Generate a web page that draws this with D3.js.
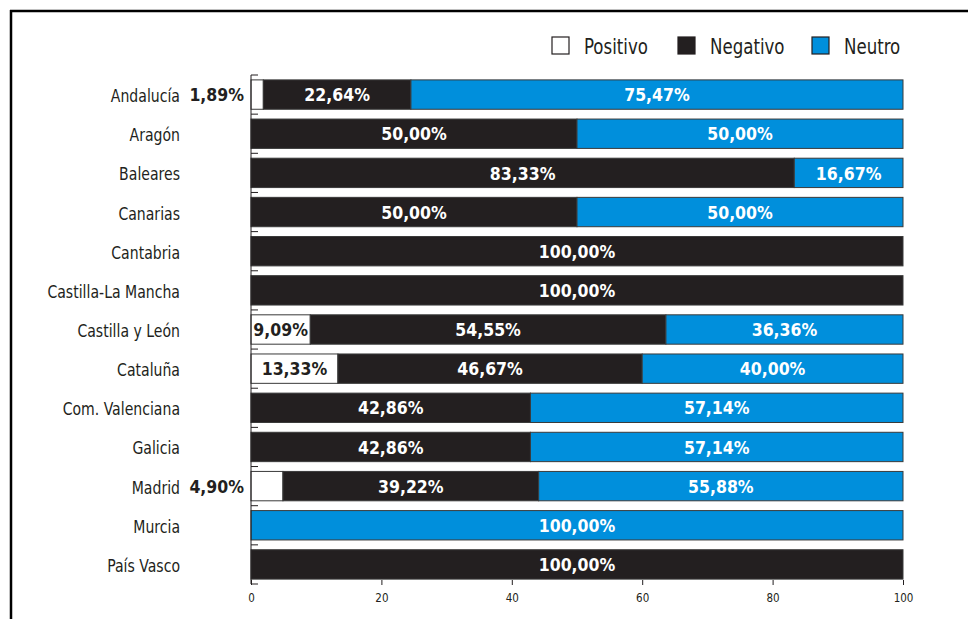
<!DOCTYPE html>
<html>
<head>
<meta charset="utf-8">
<script src="https://cdn.jsdelivr.net/npm/d3@7"></script>
<style>
  body { margin: 0; background: #fff; }
  text { font-family: "Liberation Sans Narrow", "DejaVu Sans Condensed", "Arial Narrow", sans-serif; }
</style>
</head>
<body>
<svg id="chart" width="968" height="619"></svg>
<script>
let regions = ["Andalucía", "Aragón", "Baleares", "Canarias", "Cantabria", "Castilla-La Mancha",
    "Castilla y León", "Cataluña", "Com. Valenciana", "Galicia", "Madrid", "Murcia", "País Vasco"];
let positivo = [1.89, 0, 0, 0, 0, 0, 9.09, 13.33, 0, 0, 4.90, 0, 0];
let negativo = [22.64, 50, 83.33, 50, 100, 100, 54.55, 46.67, 42.86, 42.86, 39.22, 0, 100];
let neutro = [75.47, 50, 16.67, 50, 0, 0, 36.36, 40, 57.14, 57.14, 55.88, 100, 0];
let series = ["Positivo", "Negativo", "Neutro"];
let xTicks = [0, 20, 40, 60, 80, 100];

let svg = d3.select("#chart");

// frame
svg.append("line").attr("x1", 10).attr("x2", 968).attr("y1", 11).attr("y2", 11)
    .attr("stroke", "#000").attr("stroke-width", 2.5);
svg.append("line").attr("x1", 11).attr("x2", 11).attr("y1", 10).attr("y2", 619)
    .attr("stroke", "#000").attr("stroke-width", 2.5);

let x = d3.scaleLinear().domain([0, 100]).range([251, 903]);
let y = d3.scaleBand().domain(regions).range([75, 584]).paddingInner(0.25).paddingOuter(0.125);

let color = d3.scaleOrdinal().domain(series).range(["#ffffff", "#231f20", "#008fdc"]);
let textColor = d3.scaleOrdinal().domain(series).range(["#231f20", "#ffffff", "#ffffff"]);

let table = regions.map((r, i) => ({region: r, Positivo: positivo[i], Negativo: negativo[i], Neutro: neutro[i]}));
let stacked = d3.stack().keys(series)(table);

let groups = svg.append("g").selectAll("g").data(stacked).enter().append("g")
    .attr("fill", d => color(d.key));

groups.selectAll("rect").data(d => d.filter(s => s[1] - s[0] > 0)).enter().append("rect")
    .attr("x", d => x(d[0]))
    .attr("y", d => y(d.data.region))
    .attr("width", d => x(d[1]) - x(d[0]))
    .attr("height", y.bandwidth())
    .attr("stroke", "#3a3a3a")
    .attr("stroke-width", 1);

// text squeezed horizontally to look like the condensed original font
function narrowText(parent, tx, ty, sx, anchor) {
    return parent.append("g")
        .attr("transform", `translate(${tx},${ty}) scale(${sx},1)`)
        .append("text")
        .attr("dy", "0.38em")
        .attr("text-anchor", anchor);
}

// value labels
stacked.forEach(layer => {
    layer.forEach(d => {
        let v = d[1] - d[0];
        if (v <= 0) return;
        let txt = v.toFixed(2).replace(".", ",") + "%";
        let cy = y(d.data.region) + y.bandwidth() / 2;
        let outside = v < 8;
        narrowText(svg, outside ? x(0) - 7 : (x(d[0]) + x(d[1])) / 2, cy, 1,
                outside ? "end" : "middle")
            .attr("font-weight", "bold")
            .attr("font-size", 17.5)
            .attr("fill", outside ? "#231f20" : textColor(layer.key))
            .text(txt);
    });
});

// category labels
regions.forEach(r => {
    narrowText(svg, 180, y(r) + y.bandwidth() / 2 + 1, 0.92, "end")
        .attr("font-size", 17)
        .attr("fill", "#231f20")
        .text(r);
});

// y axis line and small ticks at band edges
svg.append("line").attr("x1", 251).attr("x2", 251).attr("y1", 75).attr("y2", 584)
    .attr("stroke", "#231f20").attr("stroke-width", 1);
let edges = regions.map(r => y(r) - y.step() * y.paddingInner() / 2).concat([584]);
svg.append("g").selectAll("line").data(edges).enter().append("line")
    .attr("x1", 251).attr("x2", 258)
    .attr("y1", d => d).attr("y2", d => d)
    .attr("stroke", "#231f20").attr("stroke-width", 1);

// x axis
let xAxis = svg.append("g").attr("transform", "translate(0,580)")
    .call(d3.axisBottom(x).tickValues(xTicks).tickSize(5).tickPadding(9));
xAxis.select(".domain").remove();
xAxis.selectAll("line").attr("stroke", "#231f20");
xAxis.selectAll("text").attr("font-size", 11.5).attr("fill", "#231f20")
    .style("font-family", "\"Liberation Sans Narrow\", \"DejaVu Sans Condensed\", sans-serif");

// legend
let legendX = [552, 678, 812];
series.forEach((s, i) => {
    svg.append("rect").attr("x", legendX[i]).attr("y", 37).attr("width", 17).attr("height", 17)
        .attr("fill", color(s)).attr("stroke", "#231f20").attr("stroke-width", 1.2);
    narrowText(svg, legendX[i] + 32, 46, 0.88, "start")
        .attr("font-size", 21).attr("fill", "#231f20").text(s);
});
</script>
</body>
</html>
